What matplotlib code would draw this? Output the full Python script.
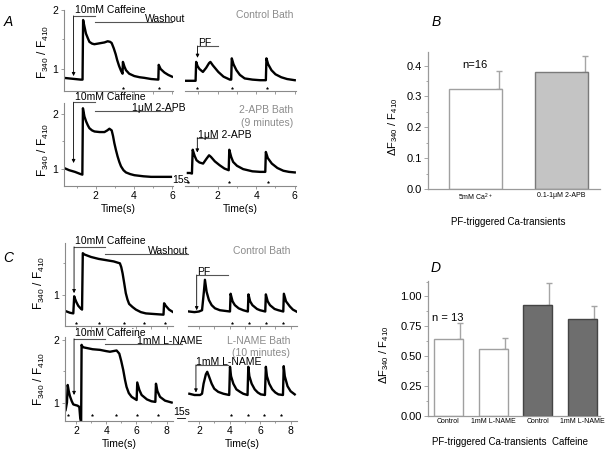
import matplotlib
matplotlib.use('Agg')
import matplotlib.pyplot as plt
from matplotlib.lines import Line2D

plt.rcParams['font.family'] = ['Liberation Sans', 'DejaVu Sans']
plt.rcParams['mathtext.fontset'] = 'custom'
plt.rcParams['mathtext.rm'] = 'Liberation Sans'
plt.rcParams['mathtext.default'] = 'regular'

# ---- traces (time s, F340/F410) ----
a1_t = [0.30, 0.6, 0.9, 1.2, 1.30, 1.33, 1.40, 1.48, 1.58, 1.66, 1.80, 1.92, 2.10, 2.27, 2.45,
        2.62, 2.75, 2.83, 2.94, 3.04, 3.12, 3.22, 3.32, 3.40, 3.42, 3.50, 3.58, 3.75, 4.02, 4.30,
        4.54, 4.9, 5.28, 5.30, 5.40, 5.60, 5.80, 6.0]
a1_y = [0.85, 0.84, 0.83, 0.82, 0.82, 1.83, 1.72, 1.60, 1.52, 1.46, 1.43, 1.42, 1.43, 1.44, 1.45,
        1.47, 1.46, 1.44, 1.35, 1.25, 1.15, 1.05, 0.97, 0.92, 1.12, 1.04, 0.98, 0.92, 0.88, 0.86,
        0.85, 0.83, 0.82, 1.07, 1.00, 0.94, 0.90, 0.87]
a2_t = [0.35, 0.6, 0.85, 0.88, 0.95, 1.05, 1.23, 1.40, 1.55, 1.62, 1.75, 2.03, 2.3, 2.63, 2.70,
        2.73, 2.82, 2.97, 3.15, 3.4, 3.8, 4.2, 4.50, 4.53, 4.62, 4.79, 5.0, 5.3, 5.6, 6.0]
a2_y = [0.80, 0.80, 0.80, 1.12, 1.05, 1.00, 0.95, 1.02, 1.10, 1.12, 1.06, 0.95, 0.87, 0.82, 0.82,
        1.18, 1.08, 0.98, 0.90, 0.84, 0.82, 0.81, 0.81, 1.18, 1.08, 0.98, 0.91, 0.86, 0.83, 0.81]
a3_t = [0.33, 0.6, 0.9, 1.2, 1.29, 1.32, 1.40, 1.49, 1.58, 1.66, 1.80, 1.93, 2.2, 2.45, 2.6,
        2.71, 2.83, 2.90, 2.97, 3.05, 3.14, 3.23, 3.32, 3.45, 3.58, 3.80, 4.02, 4.5, 4.9, 5.4, 5.94]
a3_y = [1.02, 0.98, 0.95, 0.91, 0.90, 2.10, 1.95, 1.86, 1.79, 1.74, 1.70, 1.68, 1.67, 1.67, 1.70,
        1.73, 1.70, 1.60, 1.47, 1.35, 1.23, 1.13, 1.05, 0.98, 0.94, 0.91, 0.89, 0.87, 0.86, 0.86, 0.86]
a4_t = [0.45, 0.55, 0.66, 0.70, 0.80, 0.90, 1.05, 1.24, 1.40, 1.55, 1.65, 1.85, 2.1, 2.35, 2.57,
        2.60, 2.70, 2.80, 3.0, 3.32, 3.8, 4.2, 4.47, 4.50, 4.60, 4.81, 5.1, 5.41, 5.7, 6.0]
a4_y = [0.93, 0.93, 0.92, 1.35, 1.24, 1.16, 1.12, 1.10, 1.18, 1.25, 1.22, 1.14, 1.07, 1.01, 0.98,
        1.35, 1.22, 1.13, 1.06, 1.00, 0.96, 0.95, 0.95, 1.31, 1.20, 1.10, 1.02, 0.97, 0.95, 0.94]

c1_t = [1.38, 1.6, 1.82, 1.88, 1.92, 2.02, 2.15, 2.30, 2.40, 2.45, 2.55, 3.0, 3.5, 4.0, 4.5,
        4.91, 5.0, 5.09, 5.2, 5.30, 5.41, 5.52, 5.75, 5.97, 6.3, 6.63, 7.2, 7.80, 7.84, 7.95,
        8.17, 8.44]
c1_y = [0.74, 0.72, 0.71, 0.98, 0.95, 0.89, 0.83, 0.79, 0.77, 1.66, 1.64, 1.60, 1.57, 1.55, 1.53,
        1.50, 1.44, 1.34, 1.18, 1.03, 0.93, 0.86, 0.81, 0.77, 0.73, 0.71, 0.70, 0.69, 0.87, 0.83,
        0.77, 0.73]
c2_t = [1.35, 1.7, 2.0, 2.2, 2.32, 2.39, 2.5, 2.65, 2.83, 3.05, 3.37, 3.7, 4.03, 4.07, 4.2,
        4.35, 4.6, 4.9, 5.2, 5.24, 5.35, 5.5, 5.8, 6.0, 6.34, 6.38, 6.5, 6.65, 6.95, 7.2,
        7.52, 7.56, 7.7, 7.95, 8.15, 8.38]
c2_y = [0.74, 0.73, 0.74, 0.76, 1.05, 1.24, 1.05, 0.92, 0.84, 0.79, 0.76, 0.75, 0.74, 1.02, 0.90,
        0.84, 0.79, 0.76, 0.74, 1.01, 0.90, 0.84, 0.78, 0.76, 0.74, 1.01, 0.90, 0.84, 0.78, 0.76,
        0.74, 1.02, 0.90, 0.82, 0.77, 0.74]
c3_t = [1.31, 1.40, 1.45, 1.52, 1.60, 1.72, 1.82, 1.95, 2.1, 2.22, 2.28, 2.34, 2.37, 2.40, 2.5,
        2.7, 3.1, 3.59, 4.0, 4.25, 4.69, 4.87, 5.0, 5.13, 5.25, 5.35, 5.50, 5.69, 6.02, 6.06,
        6.2, 6.35, 6.7, 7.0, 7.26, 7.30, 7.4, 7.57, 7.9, 8.34]
c3_y = [0.88, 1.0, 1.28, 1.18, 1.10, 1.02, 0.97, 0.96, 0.95, 0.93, 0.75, 0.68, 1.92, 1.90, 1.88,
        1.87, 1.85, 1.84, 1.82, 1.81, 1.83, 1.78, 1.66, 1.52, 1.36, 1.25, 1.15, 1.09, 1.04, 1.32,
        1.20, 1.12, 1.05, 1.02, 1.01, 1.30, 1.18, 1.09, 1.03, 1.00]
c4_t = [1.37, 1.7, 2.07, 2.2, 2.3, 2.45, 2.54, 2.65, 2.83, 3.0, 3.26, 3.6, 3.98, 4.03, 4.1,
        4.25, 4.45, 4.69, 4.9, 5.18, 5.23, 5.3, 5.45, 5.65, 5.85, 6.05, 6.32, 6.38, 6.45, 6.6,
        6.8, 7.0, 7.2, 7.50, 7.55, 7.62, 7.8, 8.0, 8.27]
c4_y = [1.14, 1.12, 1.12, 1.14, 1.30, 1.45, 1.49, 1.42, 1.30, 1.22, 1.17, 1.14, 1.12, 1.57, 1.42,
        1.30, 1.21, 1.17, 1.14, 1.12, 1.57, 1.42, 1.30, 1.21, 1.16, 1.13, 1.12, 1.57, 1.42, 1.30,
        1.21, 1.16, 1.13, 1.12, 1.58, 1.42, 1.26, 1.18, 1.13]

# stimulus marks (*)
a1_stars = [3.45, 5.33]
a2_stars = [0.91, 2.73, 4.55]
a4_stars = [0.47, 2.6, 4.6]
c1_stars = [1.99, 3.53, 5.19, 6.51, 7.88]
c2_stars = [4.17, 5.29, 6.38, 7.47]
c3_stars = [1.49, 3.04, 4.65, 6.02, 7.41]
c4_stars = [4.1, 5.19, 6.27, 7.37]

# ---- bar data ----
b_labels = ['5mM Ca$^{2+}$', '0.1-1\u03bcM 2-APB']
b_means = [0.325, 0.378]
b_errs = [0.058, 0.052]
d_labels = ['Control', '1mM L-NAME', 'Control', '1mM L-NAME']
d_means = [0.64, 0.56, 0.93, 0.81]
d_errs = [0.14, 0.09, 0.185, 0.11]

W, H = 605, 451
fig = plt.figure(figsize=(W / 100, H / 100), dpi=100)
SPINE = '#8a8a8a'
GREY_TXT = '#8c8c8c'
BARLINE = '#555555'
FS = 7.5


def px_axes(l, t, r, b):
    return fig.add_axes([l / W, 1 - b / H, (r - l) / W, (b - t) / H])


def fig_text(x, y, s, **kw):
    fig.text(x / W, 1 - y / H, s, **kw)


def trace_axes(box, xlim, ylim, t, y, stars=None, star_y=None, yticks=None, ymin=(),
               xmajor=(), xminor=(), xlabels=False):
    ax = px_axes(*box)
    ax.patch.set_alpha(0)
    ax.set_xlim(xlim)
    ax.set_ylim(ylim)
    for s in ['top', 'right']:
        ax.spines[s].set_visible(False)
    ax.spines['bottom'].set_color(SPINE)
    ax.spines['bottom'].set_linewidth(0.8)
    if yticks is None:
        ax.spines['left'].set_visible(False)
        ax.set_yticks([])
    else:
        ax.spines['left'].set_color(SPINE)
        ax.spines['left'].set_linewidth(0.8)
        ax.set_yticks(yticks)
        ax.set_yticklabels([str(int(v)) for v in yticks])
        ax.set_yticks(ymin, minor=True)
    ax.set_xticks(xmajor)
    ax.set_xticks(xminor, minor=True)
    if not xlabels:
        ax.set_xticklabels([])
    ax.tick_params(which='major', length=2.5, width=0.6, color=SPINE, labelsize=FS, pad=1.5)
    ax.tick_params(which='minor', length=1.5, width=0.6, color=SPINE)
    ax.plot(t, y, color='k', lw=1.7, solid_joinstyle='round')
    if stars:
        ax.plot(stars, [star_y] * len(stars), ls='none', marker='*', ms=1.8, mew=0.3,
                color='k', clip_on=False)
    return ax


def period(ax, x0, x1, y, text=None, ha='left', tx=None, arrow_to=None):
    ax.plot([x0, x1], [y, y], color=BARLINE, lw=0.8, clip_on=False)
    if text:
        ax.text(x0 if tx is None else tx, y, text, fontsize=FS, ha=ha, va='baseline')
    if arrow_to is not None:
        ax.annotate('', xy=(x0, arrow_to), xytext=(x0, y), annotation_clip=False,
                    arrowprops=dict(arrowstyle='-|>', color='k', lw=0.6,
                                    mutation_scale=5, shrinkA=0, shrinkB=0))


# ---------------- A ----------------
xa = (0.3, 6.05)
ax = trace_axes((63.5, 10, 173, 90.7), xa, (0.632, 2.0), a1_t, a1_y, a1_stars, 0.683,
                yticks=[1, 2], ymin=[1.5], xmajor=[1, 2, 3, 4, 5, 6])
period(ax, 0.83, 1.95, 1.90, arrow_to=0.88)
ax.text(0.9, 1.92, '10mM Caffeine', fontsize=FS, ha='left', va='bottom')
period(ax, 1.95, 6.0, 1.80, 'Washout', ha='right', tx=6.7)

ax = trace_axes((185, 10, 295.7, 90.7), xa, (0.632, 2.0), a2_t, a2_y, a2_stars, 0.683,
                xmajor=[1, 2, 3, 4, 5, 6])
period(ax, 0.95, 1.99, 1.39, 'PF', tx=0.97, arrow_to=1.19)

ax = trace_axes((63.5, 103.3, 173, 185.7), xa, (0.70, 2.19), a3_t, a3_y,
                yticks=[1, 2], ymin=[1.5], xmajor=[2, 4, 6], xminor=[1, 3, 5], xlabels=True)
period(ax, 0.83, 1.95, 2.21, arrow_to=1.11)
ax.text(0.9, 2.22, '10mM Caffeine', fontsize=FS, ha='left', va='bottom')
period(ax, 1.95, 6.0, 2.056, '1\u03bcM 2-APB', ha='right', tx=6.7)
ax.set_xlabel('Time(s)', fontsize=FS, labelpad=2)

ax = trace_axes((185, 103.3, 295.7, 185.7), xa, (0.70, 2.19), a4_t, a4_y, a4_stars, 0.765,
                xmajor=[2, 4, 6], xminor=[1, 3, 5], xlabels=True)
period(ax, 0.94, 1.95, 1.57, '1\u03bcM 2-APB', tx=0.96, arrow_to=1.30)
ax.set_xlabel('Time(s)', fontsize=FS, labelpad=2)

fig_text(181, 180, '15s', fontsize=FS, ha='center', va='center')
fig_text(293, 15, 'Control Bath', fontsize=FS, color=GREY_TXT, ha='right', va='center')
fig_text(293, 110, '2-APB Bath', fontsize=FS, color=GREY_TXT, ha='right', va='center')
fig_text(293, 122.5, '(9 minutes)', fontsize=FS, color=GREY_TXT, ha='right', va='center')

# ---------------- C ----------------
xl, xr = (1.27, 8.45), (1.3, 8.4)
ax = trace_axes((65, 243.3, 173.3, 325.7), xl, (0.516, 1.816), c1_t, c1_y, c1_stars, 0.56,
                yticks=[1], ymin=[1.5], xmajor=[2, 3, 4, 5, 6, 7, 8])
period(ax, 1.87, 3.92, 1.76, arrow_to=1.03)
ax.text(1.9, 1.77, '10mM Caffeine', fontsize=FS, ha='left', va='bottom')
period(ax, 3.92, 9.42, 1.65, 'Washout', ha='right', tx=9.42)

ax = trace_axes((188.3, 243.3, 296.7, 325.7), xr, (0.516, 1.816), c2_t, c2_y, c2_stars, 0.56,
                xmajor=[2, 3, 4, 5, 6, 7, 8])
period(ax, 1.85, 3.92, 1.316, 'PF', tx=1.9, arrow_to=0.76)

ax = trace_axes((65, 336.7, 173.3, 420.7), xl, (0.71, 2.05), c3_t, c3_y, c3_stars, 0.80,
                yticks=[1, 2], ymin=[1.5], xmajor=[2, 4, 6, 8], xminor=[3, 5, 7], xlabels=True)
period(ax, 1.87, 3.92, 2.016, arrow_to=1.12)
ax.text(1.9, 2.03, '10mM Caffeine', fontsize=FS, ha='left', va='bottom')
period(ax, 3.92, 9.05, 1.93, '1mM L-NAME', ha='right', tx=10.4)
ax.set_xlabel('Time(s)', fontsize=FS, labelpad=2)

ax = trace_axes((188.3, 336.7, 296.7, 420.7), xr, (0.71, 2.05), c4_t, c4_y, c4_stars, 0.80,
                xmajor=[2, 4, 6, 8], xminor=[3, 5, 7], xlabels=True)
period(ax, 1.8, 3.92, 1.60, '1mM L-NAME', tx=1.82, arrow_to=1.16)
ax.set_xlabel('Time(s)', fontsize=FS, labelpad=2)

fig_text(182, 412, '15s', fontsize=FS, ha='center', va='center')
fig.add_artist(Line2D([177 / W, 185 / W], [1 - 418 / H, 1 - 418 / H], color='k', lw=0.6))
fig_text(290, 251.5, 'Control Bath', fontsize=FS, color=GREY_TXT, ha='right', va='center')
fig_text(290, 341, 'L-NAME Bath', fontsize=FS, color=GREY_TXT, ha='right', va='center')
fig_text(290, 353, '(10 minutes)', fontsize=FS, color=GREY_TXT, ha='right', va='center')

# y labels for traces
ylab = 'F$_{340}$ / F$_{410}$'
for x, y in [(43, 52), (43, 150), (39, 283), (39, 379)]:
    fig_text(x, y, ylab, fontsize=8.5, rotation=90, ha='center', va='center')


# ---------------- bar panels ----------------
def bar_axes(box, xlim, ylim, means, errs, faces, edges, width, whisk, labels, yt, ymin, fmt):
    ax = px_axes(*box)
    ax.set_xlim(xlim)
    ax.set_ylim(ylim)
    pos = list(range(len(means)))
    ax.bar(pos, means, width=width, color=faces, edgecolor=edges, linewidth=1.0, zorder=2)
    for p, m, e in zip(pos, means, errs):
        ax.errorbar([p + whisk], [m], yerr=[[0], [e]], fmt='none', ecolor='#a5a5a5',
                    elinewidth=1.0, capsize=2.5, capthick=1.0, zorder=1)
    for s in ['top', 'right']:
        ax.spines[s].set_visible(False)
    for s in ['left', 'bottom']:
        ax.spines[s].set_color('#9a9a9a')
        ax.spines[s].set_linewidth(0.9)
    ax.set_xticks(pos)
    ax.set_xticklabels(labels, fontsize=5)
    ax.tick_params(axis='x', length=0, pad=2)
    ax.set_yticks(yt)
    ax.set_yticklabels([fmt.format(v) for v in yt], fontsize=8)
    ax.set_yticks(ymin, minor=True)
    ax.tick_params(axis='y', which='major', length=3, width=0.6, color='#9a9a9a', pad=1.5)
    ax.tick_params(axis='y', which='minor', length=1.5, width=0.6, color='#9a9a9a')
    return ax


bar_axes((428, 51.7, 600, 189), (-0.552, 1.448), (0, 0.445), b_means, b_errs,
         ['white', '#c4c4c4'], ['#a0a0a0', '#7a7a7a'], 0.616, 0.27, b_labels,
         [0.0, 0.1, 0.2, 0.3, 0.4], [0.05, 0.15, 0.25, 0.35], '{:.1f}')
fig_text(475, 65, 'n=16', fontsize=8, ha='center', va='center')
fig_text(508, 222, 'PF-triggered Ca-transients', fontsize=7, ha='center', va='center')

bar_axes((428, 281, 600, 415.7), (-0.46, 3.40), (0, 1.13), d_means, d_errs,
         ['white', 'white', '#6e6e6e', '#6e6e6e'], ['#a0a0a0', '#a0a0a0', '#444444', '#444444'],
         0.65, 0.26, d_labels, [0.0, 0.25, 0.5, 0.75, 1.0], [0.125, 0.375, 0.625, 0.875, 1.125],
         '{:.2f}')
fig_text(448, 318, 'n = 13', fontsize=8, ha='center', va='center')
fig_text(510, 442, 'PF-triggered Ca-transients  Caffeine', fontsize=7, ha='center', va='center')

dlab = '\u0394F$_{340}$ / F$_{410}$'
fig_text(393, 127, dlab, fontsize=8, rotation=90, ha='center', va='center')
fig_text(384, 355, dlab, fontsize=8, rotation=90, ha='center', va='center')

# panel letters
for s, x, y in [('A', 8, 22), ('B', 436, 22), ('C', 8, 258), ('D', 436, 268)]:
    fig_text(x, y, s, fontsize=10, style='italic', ha='center', va='center')

fig.savefig('out.png', dpi=100)
